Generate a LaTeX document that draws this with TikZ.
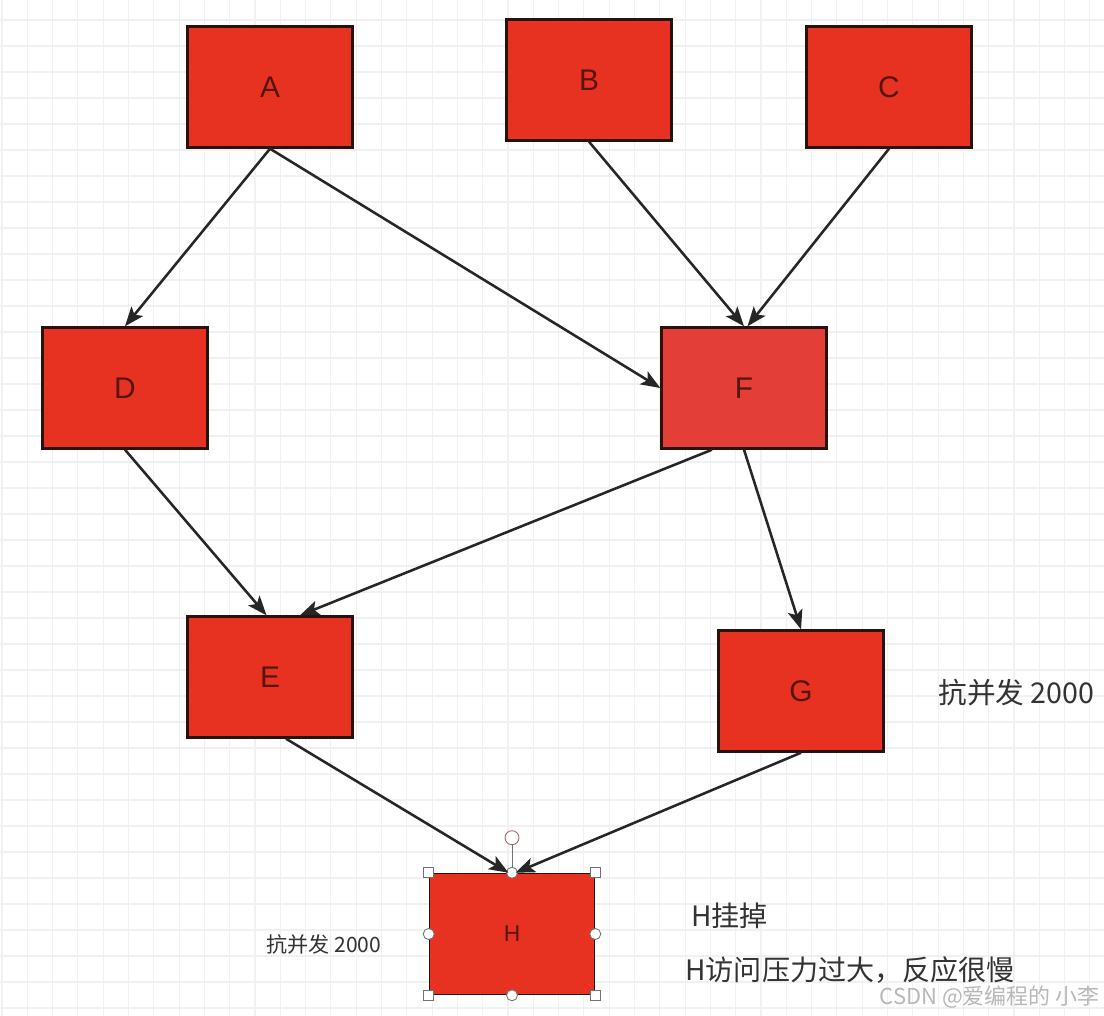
\documentclass[tikz,border=0pt]{standalone}
\usepackage{fontspec}
\setsansfont{Liberation Sans}
\newfontfamily\cjk{Noto Sans CJK SC}
\usetikzlibrary{arrows.meta}
\definecolor{boxred}{RGB}{232,50,33}
\definecolor{boxredlight}{RGB}{228,62,56}
\definecolor{boxline}{RGB}{40,18,12}
\definecolor{letterred}{RGB}{85,22,15}
\definecolor{gridgray}{RGB}{241,241,241}

\begin{document}
\begin{tikzpicture}[
    x=0.02cm, y=-0.02cm,
    block/.style={rectangle, draw=boxline, fill=boxred, line width=1.4pt,
        minimum width=3.3cm, minimum height=2.42cm,
        font=\sffamily\fontsize{17}{17}\selectfont, text=letterred},
    arrow/.style={-{Stealth[length=11pt, width=8.5pt, inset=2.5pt]},
        line width=1.45pt, draw=black!85},
    note/.style={font=\cjk\fontsize{15}{15}\selectfont, text=black!80, inner sep=0pt},
    handle/.style={draw=black!55, fill=white, line width=0.5pt}
]
    % background and grid
    \fill[white] (0,0) rectangle (1104,1016);
    \useasboundingbox (0,0) rectangle (1104,1016);
    \foreach \gx in {0,...,43}
        \draw[gridgray, line width=0.6pt] (2+25.3*\gx,0) -- (2+25.3*\gx,1016);
    \foreach \gy in {0,...,39}
        \draw[gridgray, line width=0.6pt] (0,20+26*\gy) -- (1104,20+26*\gy);

    % Row 1
    \node[block] (a) at (270,87) {A};
    \node[block] (b) at (589,80) {B};
    \node[block] (c) at (889,87) {C};

    % Row 2
    \node[block] (d) at (125,388) {D};
    \node[block, fill=boxredlight] (f) at (744,388) {F};

    % Row 3
    \node[block] (e) at (270,677) {E};
    \node[block] (g) at (801,691) {G};

    % Row 4
    \node[block, line width=0.9pt, font=\sffamily\fontsize{13}{13}\selectfont] (h) at (512,934) {H};

    % selection handles round H
    \draw[black!55, line width=0.5pt] (h.north) -- ++(0,-28) coordinate (rot);
    \draw[handle, draw=red!40!black!60] (rot) ++(0,-7) circle (7);
    \foreach \corner in {north west, north east, south west, south east}
        \draw[handle] (h.\corner) ++(-5,-5) rectangle ++(10,10);
    \foreach \side in {north, south, west, east}
        \draw[handle] (h.\side) circle (5.5);

    % texts
    \node[note, font=\cjk\fontsize{16.3}{16}\selectfont, anchor=west] (load1) at (938,693) {抗并发\ 2000};
    \node[note, font=\cjk\fontsize{12}{12}\selectfont, anchor=west] (load2) at (266,944) {抗并发\ 2000};
    \node[note, font=\cjk\fontsize{16}{16}\selectfont, anchor=west] (down) at (691,916) {H挂掉};
    \node[note, font=\cjk\fontsize{16}{16}\selectfont, anchor=west] (slow) at (685,970) {H访问压力过大，反应很慢};
    \node[note, font=\cjk\fontsize{12.5}{12.5}\selectfont, text=black!28, anchor=east] (mark) at (1100,997) {CSDN @爱编程的 小李};

    \draw[arrow] (a.south) -- (d.north);
    \draw[arrow] (a.south) -- (f.west);
    \draw[arrow] (b.south) -- ([xshift=0pt]f.north);
    \draw[arrow] (c.south) -- ([xshift=2pt]f.north);
    \draw[arrow] (d.south) -- ([xshift=-2pt]e.north);
    \draw[arrow] ([xshift=-32*0.02cm]f.south) -- ([xshift=30*0.02cm]e.north);
    \draw[arrow] (f.south) -- ([xshift=0pt]g.north);
    \draw[arrow] ([xshift=16*0.02cm]e.south) -- ([xshift=-2pt]h.north);
    \draw[arrow] (g.south) -- ([xshift=2pt]h.north);
\end{tikzpicture}
\end{document}
